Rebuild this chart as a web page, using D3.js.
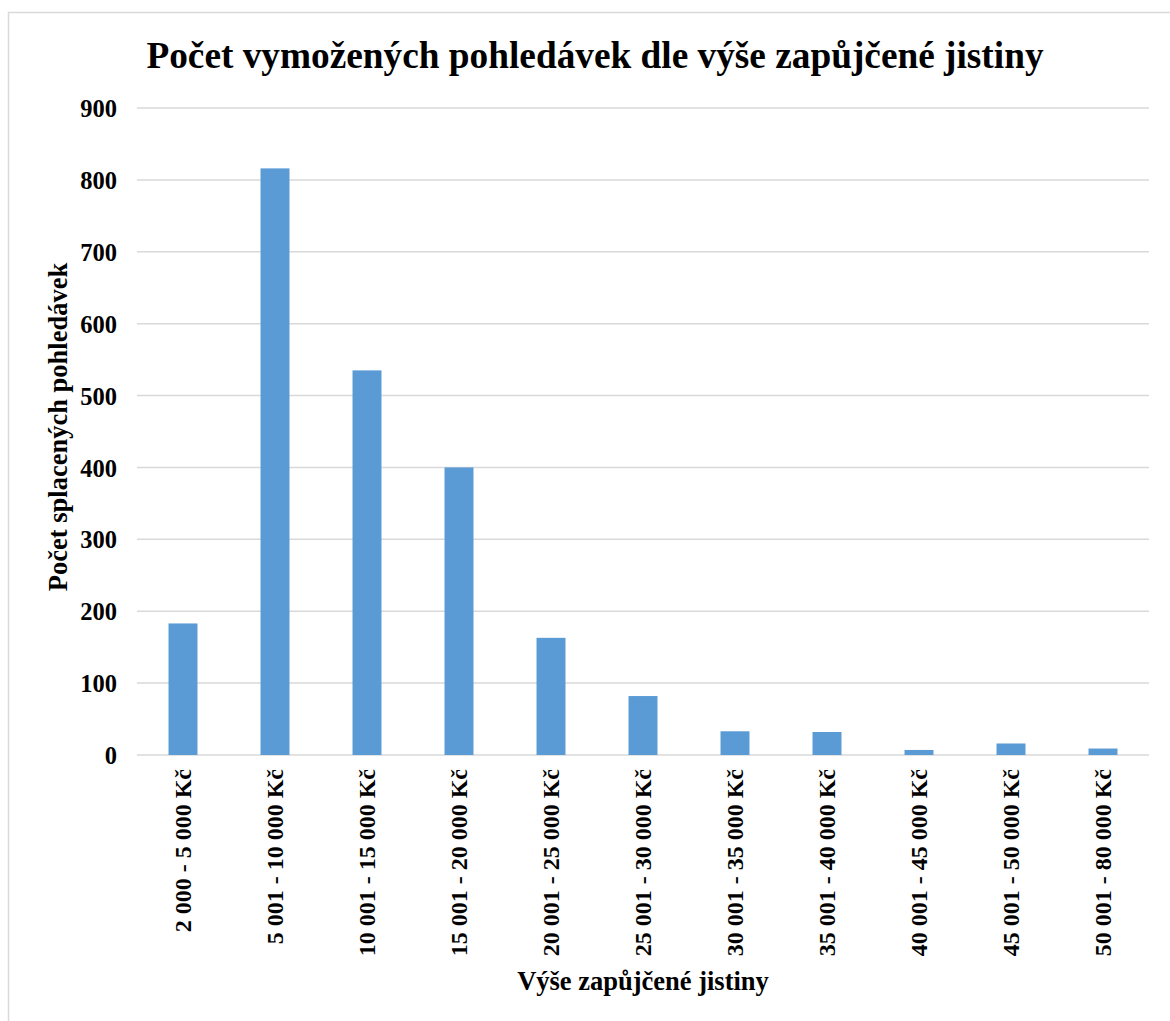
<!DOCTYPE html>
<html>
<head>
<meta charset="utf-8">
<script src="https://cdn.jsdelivr.net/npm/d3@7"></script>
<style>
  body { margin: 0; background: #fff; }
  text { font-family: "Liberation Serif", "Times New Roman", serif; font-weight: bold; fill: #000; }
</style>
</head>
<body>
<script>
    // data
    let categories = ["2 000 - 5 000 Kč", "5 001 - 10 000 Kč", "10 001 - 15 000 Kč",
        "15 001 - 20 000 Kč", "20 001 - 25 000 Kč", "25 001 - 30 000 Kč",
        "30 001 - 35 000 Kč", "35 001 - 40 000 Kč", "40 001 - 45 000 Kč",
        "45 001 - 50 000 Kč", "50 001 - 80 000 Kč"];
    let counts = [183, 816, 535, 400, 163, 82, 33, 32, 7, 16, 9];
    let yTicks = [0, 100, 200, 300, 400, 500, 600, 700, 800, 900];

    let width = 1170, height = 1021;
    let plotLeft = 137, plotRight = 1149, plotTop = 108, plotBottom = 755;

    let svg = d3.select("body").append("svg")
        .attr("width", width)
        .attr("height", height);

    // chart border (only top and left edges are inside the picture)
    svg.append("path")
        .attr("d", "M8.5," + height + "V12.5H" + width)
        .attr("fill", "none")
        .attr("stroke", "#d9d9d9")
        .attr("stroke-width", 1.5);

    let x = d3.scaleBand()
        .domain(categories)
        .range([plotLeft, plotRight])
        .paddingInner(0.685)
        .paddingOuter(0.3425);

    let y = d3.scaleLinear()
        .domain([0, 900])
        .range([plotBottom, plotTop]);

    // gridlines
    svg.append("g")
        .selectAll("line")
        .data(yTicks)
        .join("line")
            .attr("x1", plotLeft).attr("x2", plotRight)
            .attr("y1", d => y(d)).attr("y2", d => y(d))
            .attr("stroke", "#d9d9d9")
            .attr("stroke-width", 1.5);

    // bars
    svg.append("g")
        .selectAll("rect")
        .data(counts)
        .join("rect")
            .attr("x", (d, i) => x(categories[i]))
            .attr("y", d => y(d))
            .attr("width", x.bandwidth())
            .attr("height", d => y(0) - y(d))
            .attr("fill", "#5b9bd5");

    // y axis labels
    let yAxis = d3.axisLeft(y).tickValues(yTicks).tickSize(0).tickPadding(20);
    let gy = svg.append("g")
        .attr("transform", "translate(" + plotLeft + ",0)")
        .call(yAxis);
    gy.select(".domain").remove();
    gy.selectAll("text")
        .style("font-size", "24.5px")
        .style("font-family", "Liberation Serif, serif")
        .attr("dy", "0.35em");

    // x axis labels, rotated
    let xAxis = d3.axisBottom(x).tickSize(0);
    let gx = svg.append("g")
        .attr("transform", "translate(0," + plotBottom + ")")
        .call(xAxis);
    gx.select(".domain").remove();
    gx.selectAll("text")
        .style("font-size", "24px")
        .style("font-family", "Liberation Serif, serif")
        .style("text-anchor", "end")
        .attr("transform", "rotate(-90)")
        .attr("x", -14)
        .attr("y", 0)
        .attr("dy", "0.35em");

    // title
    svg.append("text")
        .attr("x", 595)
        .attr("y", 68)
        .style("text-anchor", "middle")
        .style("font-size", "37.3px")
        .text("Počet vymožených pohledávek dle výše zapůjčené jistiny");

    // axis titles
    svg.append("text")
        .attr("transform", "rotate(-90)")
        .attr("x", -427)
        .attr("y", 67)
        .style("text-anchor", "middle")
        .style("font-size", "26.5px")
        .text("Počet splacených pohledávek");

    svg.append("text")
        .attr("x", 643)
        .attr("y", 990)
        .style("text-anchor", "middle")
        .style("font-size", "26.5px")
        .text("Výše zapůjčené jistiny");
</script>
</body>
</html>
